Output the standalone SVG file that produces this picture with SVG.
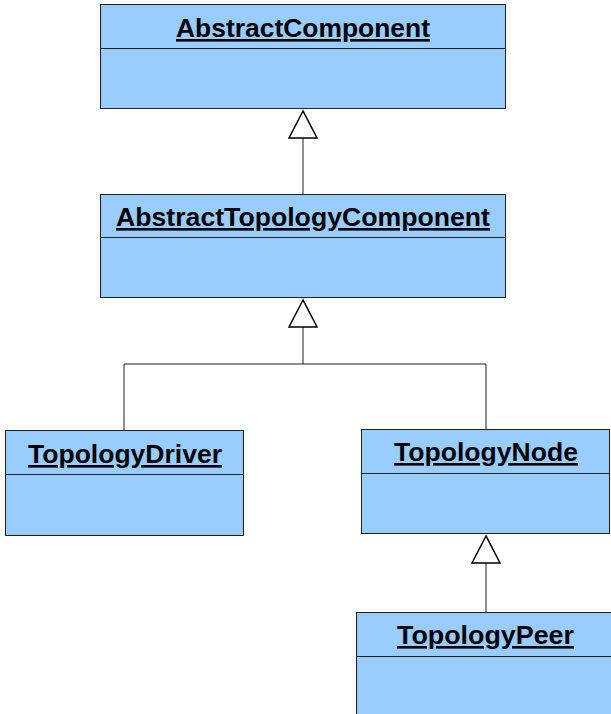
<svg xmlns="http://www.w3.org/2000/svg" width="611" height="714" viewBox="0 0 611 714">
<defs>
<style>
.box{fill:#99ccff;stroke:#222;stroke-width:1}
.div{stroke:#222;stroke-width:1}
.t{font-family:"Liberation Sans",Arial,sans-serif;font-weight:bold;font-size:26px;text-anchor:middle;text-decoration:underline;fill:#000}
.c{fill:none;stroke:#222;stroke-width:1}
.tri{fill:#fff;stroke:#000;stroke-width:1.5}
</style>
</defs>
<rect width="611" height="714" fill="#fff"/>
<g id="connectors">
<line class="c" x1="303" y1="138" x2="303" y2="194"/>
<polygon class="tri" points="303,111 289,138 317,138"/>
<polyline class="c" points="303,327 303,364 124,364 124,430"/>
<polyline class="c" points="303,364 486,364 486,430"/>
<polygon class="tri" points="303,300 289,327 317,327"/>
<line class="c" x1="486" y1="563" x2="486" y2="612"/>
<polygon class="tri" points="486,536 472,563 500,563"/>
</g>
<g id="AbstractComponent">
<rect class="box" x="100.5" y="4.5" width="405" height="104"/>
<line class="div" x1="100.5" y1="48.5" x2="505.5" y2="48.5"/>
<text class="t" x="303" y="37" textLength="254" lengthAdjust="spacingAndGlyphs">AbstractComponent</text>
</g>
<g id="AbstractTopologyComponent">
<rect class="box" x="100.5" y="194.5" width="405" height="103"/>
<line class="div" x1="100.5" y1="237.5" x2="505.5" y2="237.5"/>
<text class="t" x="303" y="226" textLength="374" lengthAdjust="spacingAndGlyphs">AbstractTopologyComponent</text>
</g>
<g id="TopologyDriver">
<rect class="box" x="5.5" y="430.5" width="238" height="105"/>
<line class="div" x1="5.5" y1="474.5" x2="243.5" y2="474.5"/>
<text class="t" x="125" y="463" textLength="194" lengthAdjust="spacingAndGlyphs">TopologyDriver</text>
</g>
<g id="TopologyNode">
<rect class="box" x="361.5" y="429.5" width="248" height="104"/>
<line class="div" x1="361.5" y1="473.5" x2="609.5" y2="473.5"/>
<text class="t" x="486" y="461" textLength="184" lengthAdjust="spacingAndGlyphs">TopologyNode</text>
</g>
<g id="TopologyPeer">
<rect class="box" x="356.5" y="612.5" width="260" height="110"/>
<line class="div" x1="356.5" y1="656.5" x2="611" y2="656.5"/>
<text class="t" x="485.5" y="644" textLength="177" lengthAdjust="spacingAndGlyphs">TopologyPeer</text>
</g>
</svg>
